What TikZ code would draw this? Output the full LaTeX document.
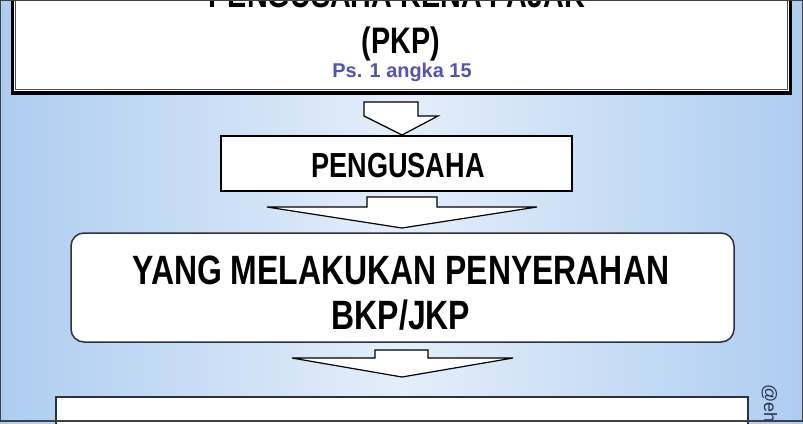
\documentclass[tikz,border=0pt]{standalone}
\usepackage{fontspec}
\setmainfont{Liberation Sans}
\newfontfamily\nb{Liberation Sans}[FakeStretch=0.78]
\definecolor{bgedge}{RGB}{173,205,240}
\definecolor{bgmid}{RGB}{228,238,250}
\definecolor{psblue}{RGB}{82,82,184}
\definecolor{wmcol}{RGB}{40,50,80}
\definecolor{boxgray}{RGB}{45,50,58}
\tikzset{
  boxline/.style={draw=black, line width=1.3bp, fill=white, inner sep=0pt, outer sep=0pt, anchor=north west},
  barrow/.style={draw=black, line width=1.2bp, fill=white, line join=miter},
  toptxt/.style={font=\nb\bfseries\fontsize{37}{44}\selectfont, anchor=base, inner sep=0pt},
  midtxt/.style={font=\nb\bfseries\fontsize{34.9}{42}\selectfont, anchor=base, inner sep=0pt},
  bigtxt/.style={font=\nb\bfseries\fontsize{41.1}{45}\selectfont, anchor=base, inner sep=0pt},
  pstxt/.style={font=\bfseries\fontsize{20}{24}\selectfont, text=psblue, anchor=base, inner sep=0pt},
  wmtxt/.style={font=\fontsize{18}{20}\selectfont, text=wmcol, anchor=base west, inner sep=0pt, rotate=-90}
}
\begin{document}
\begin{tikzpicture}[x=1bp,y=-1bp]
\useasboundingbox (0,0) rectangle (803,423);
\clip (0,0) rectangle (803,423);
% background
\shade[left color=bgedge, right color=bgedge, middle color=bgmid] (0,0) rectangle (803,423);
% top box (double frame)
\fill[black] (11,-20) rectangle (792,95);
\fill[white] (14,-20) rectangle (789,91);
\draw[gray!60!black, line width=0.8bp] (15.5,-20) rectangle (787.5,89.5);
\node[toptxt] (t1) at (397,7) {PENGUSAHA KENA PAJAK};
\node[toptxt] (t2) at (401,53) {(PKP)};
\node[pstxt] (t3) at (402,77) {Ps. 1 angka 15};
% arrow 1
\draw[barrow] (364,102) -- (418,102) -- (418,116) -- (438,116) -- (402,135) -- (364,116) -- cycle;
% PENGUSAHA box
\node[boxline, minimum width=351bp, minimum height=55bp] (peng) at (221,136) {};
\node[midtxt] (pengtxt) at (398,177) {PENGUSAHA};
% arrow 2
\draw[barrow] (367,197) -- (437,197) -- (437,207) -- (537,207) -- (402,228) -- (267,207) -- (367,207) -- cycle;
% rounded box
\node[boxline, draw=boxgray, line width=1.5bp, rounded corners=13bp, minimum width=663bp, minimum height=109bp] (big) at (71,233) {};
\node[bigtxt] (bigtxt1) at (401,284) {YANG MELAKUKAN PENYERAHAN};
\node[bigtxt] (bigtxt2) at (401,329) {BKP/JKP};
% arrow 3
\draw[barrow] (375,350) -- (428,350) -- (428,358) -- (513,358) -- (402,377) -- (292,358) -- (375,358) -- cycle;
% bottom box
\node[boxline, draw=boxgray, minimum width=692bp, minimum height=60bp] (bottom) at (56,397) {};
% watermark
\node[wmtxt] (wmark) at (764,384) {@eh};
% image frame
\draw[black!75, line width=1.2bp] (0.6,0.6) rectangle (802.4,421);
\end{tikzpicture}
\end{document}
